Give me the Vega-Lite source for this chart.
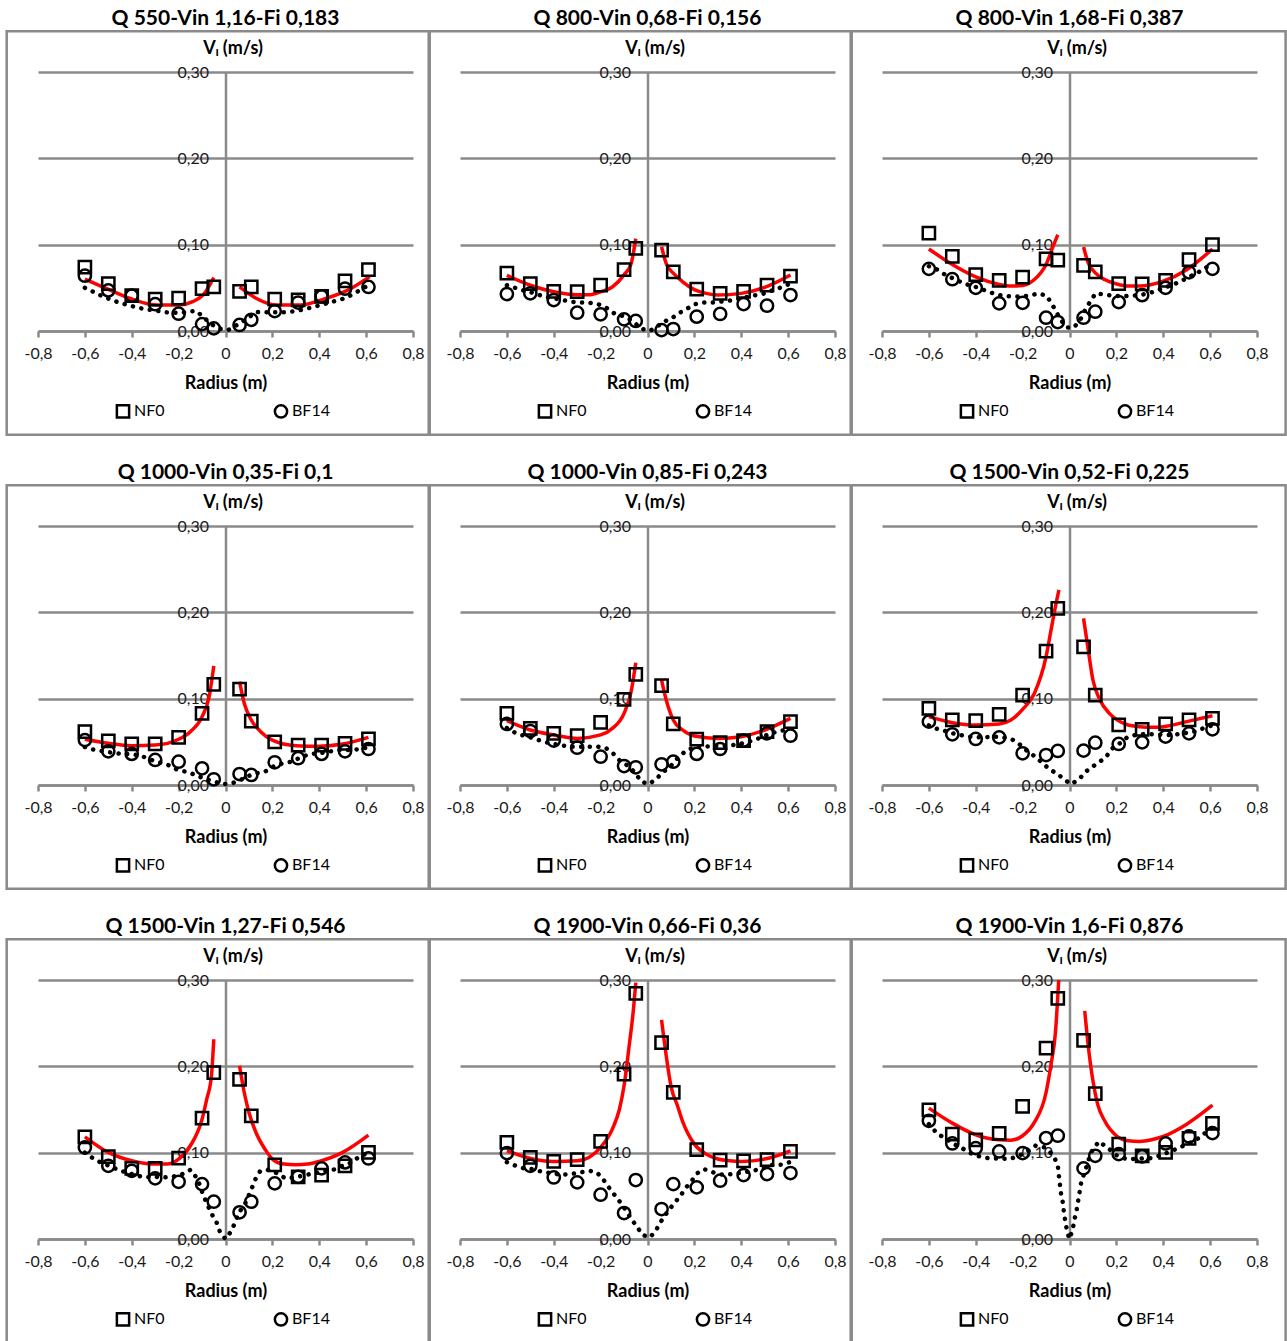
{
"$schema": "https://vega.github.io/schema/vega-lite/v6.json",
"background": "white",
"padding": {"left": 5, "top": 8, "right": 0, "bottom": 0},
"columns": 3,
"spacing": {"row": 195, "column": 47},
"bounds": "flush",
"resolve": {"scale": {"shape": "independent"}, "legend": {"shape": "independent"}},
"data": {"values": [
{"p":1,"s":"NF0","x":-0.6,"y":0.074},{"p":1,"s":"NF0","x":-0.5,"y":0.055},{"p":1,"s":"NF0","x":-0.4,"y":0.041},{"p":1,"s":"NF0","x":-0.3,"y":0.037},{"p":1,"s":"NF0","x":-0.2,"y":0.038},{"p":1,"s":"NF0","x":-0.1,"y":0.049},{"p":1,"s":"NF0","x":-0.05,"y":0.051},{"p":1,"s":"NF0","x":0.06,"y":0.046},{"p":1,"s":"NF0","x":0.11,"y":0.051},{"p":1,"s":"NF0","x":0.21,"y":0.037},{"p":1,"s":"NF0","x":0.31,"y":0.036},{"p":1,"s":"NF0","x":0.41,"y":0.040},{"p":1,"s":"NF0","x":0.51,"y":0.058},{"p":1,"s":"NF0","x":0.61,"y":0.071},
{"p":1,"s":"BF14","x":-0.6,"y":0.064},{"p":1,"s":"BF14","x":-0.5,"y":0.047},{"p":1,"s":"BF14","x":-0.4,"y":0.041},{"p":1,"s":"BF14","x":-0.3,"y":0.031},{"p":1,"s":"BF14","x":-0.2,"y":0.020},{"p":1,"s":"BF14","x":-0.1,"y":0.008},{"p":1,"s":"BF14","x":-0.05,"y":0.003},{"p":1,"s":"BF14","x":0.06,"y":0.007},{"p":1,"s":"BF14","x":0.11,"y":0.013},{"p":1,"s":"BF14","x":0.21,"y":0.023},{"p":1,"s":"BF14","x":0.31,"y":0.033},{"p":1,"s":"BF14","x":0.41,"y":0.040},{"p":1,"s":"BF14","x":0.51,"y":0.049},{"p":1,"s":"BF14","x":0.61,"y":0.051},
{"p":1,"s":"L","x":-0.6,"y":0.060},{"p":1,"s":"L","x":-0.49,"y":0.047},{"p":1,"s":"L","x":-0.39,"y":0.036},{"p":1,"s":"L","x":-0.29,"y":0.030},{"p":1,"s":"L","x":-0.2,"y":0.030},{"p":1,"s":"L","x":-0.14,"y":0.034},{"p":1,"s":"L","x":-0.09,"y":0.0436},{"p":1,"s":"L","x":-0.05,"y":0.062},
{"p":1,"s":"R","x":0.06,"y":0.051},{"p":1,"s":"R","x":0.13,"y":0.038},{"p":1,"s":"R","x":0.22,"y":0.030},{"p":1,"s":"R","x":0.32,"y":0.030},{"p":1,"s":"R","x":0.42,"y":0.037},{"p":1,"s":"R","x":0.52,"y":0.047},{"p":1,"s":"R","x":0.615,"y":0.063},
{"p":1,"s":"D","x":-0.6,"y":0.05},{"p":1,"s":"D","x":-0.569,"y":0.046},{"p":1,"s":"D","x":-0.531,"y":0.041},{"p":1,"s":"D","x":-0.495,"y":0.037},{"p":1,"s":"D","x":-0.455,"y":0.033},{"p":1,"s":"D","x":-0.414,"y":0.030},{"p":1,"s":"D","x":-0.375,"y":0.027},{"p":1,"s":"D","x":-0.334,"y":0.025},{"p":1,"s":"D","x":-0.295,"y":0.0235},{"p":1,"s":"D","x":-0.252,"y":0.0216},{"p":1,"s":"D","x":-0.21,"y":0.021},{"p":1,"s":"D","x":-0.17,"y":0.0216},{"p":1,"s":"D","x":-0.127,"y":0.0235},{"p":1,"s":"D","x":-0.093,"y":0.016},{"p":1,"s":"D","x":-0.067,"y":0.009},{"p":1,"s":"D","x":-0.031,"y":0.003},{"p":1,"s":"D","x":0.011,"y":0.001},{"p":1,"s":"D","x":0.061,"y":0.009},{"p":1,"s":"D","x":0.097,"y":0.015},{"p":1,"s":"D","x":0.13,"y":0.022},{"p":1,"s":"D","x":0.171,"y":0.0216},{"p":1,"s":"D","x":0.213,"y":0.0216},{"p":1,"s":"D","x":0.254,"y":0.0216},{"p":1,"s":"D","x":0.295,"y":0.023},{"p":1,"s":"D","x":0.335,"y":0.025},{"p":1,"s":"D","x":0.377,"y":0.028},{"p":1,"s":"D","x":0.418,"y":0.031},{"p":1,"s":"D","x":0.458,"y":0.034},{"p":1,"s":"D","x":0.498,"y":0.037},{"p":1,"s":"D","x":0.532,"y":0.041},{"p":1,"s":"D","x":0.572,"y":0.047},{"p":1,"s":"D","x":0.603,"y":0.052},

{"p":2,"s":"NF0","x":-0.6,"y":0.067},{"p":2,"s":"NF0","x":-0.5,"y":0.055},{"p":2,"s":"NF0","x":-0.4,"y":0.046},{"p":2,"s":"NF0","x":-0.3,"y":0.0455},{"p":2,"s":"NF0","x":-0.2,"y":0.053},{"p":2,"s":"NF0","x":-0.1,"y":0.071},{"p":2,"s":"NF0","x":-0.05,"y":0.0956},{"p":2,"s":"NF0","x":0.06,"y":0.0937},{"p":2,"s":"NF0","x":0.11,"y":0.0686},{"p":2,"s":"NF0","x":0.21,"y":0.0486},{"p":2,"s":"NF0","x":0.31,"y":0.0436},{"p":2,"s":"NF0","x":0.41,"y":0.046},{"p":2,"s":"NF0","x":0.51,"y":0.053},{"p":2,"s":"NF0","x":0.61,"y":0.0636},
{"p":2,"s":"BF14","x":-0.6,"y":0.0428},{"p":2,"s":"BF14","x":-0.5,"y":0.0436},{"p":2,"s":"BF14","x":-0.4,"y":0.0359},{"p":2,"s":"BF14","x":-0.3,"y":0.0212},{"p":2,"s":"BF14","x":-0.2,"y":0.0193},{"p":2,"s":"BF14","x":-0.1,"y":0.0135},{"p":2,"s":"BF14","x":-0.05,"y":0.0116},{"p":2,"s":"BF14","x":0.06,"y":0.001},{"p":2,"s":"BF14","x":0.11,"y":0.0023},{"p":2,"s":"BF14","x":0.21,"y":0.0166},{"p":2,"s":"BF14","x":0.31,"y":0.0197},{"p":2,"s":"BF14","x":0.41,"y":0.0312},{"p":2,"s":"BF14","x":0.51,"y":0.0293},{"p":2,"s":"BF14","x":0.61,"y":0.0416},
{"p":2,"s":"L","x":-0.6,"y":0.0644},{"p":2,"s":"L","x":-0.5,"y":0.053},{"p":2,"s":"L","x":-0.4,"y":0.0455},{"p":2,"s":"L","x":-0.3,"y":0.042},{"p":2,"s":"L","x":-0.25,"y":0.042},{"p":2,"s":"L","x":-0.2,"y":0.0455},{"p":2,"s":"L","x":-0.15,"y":0.051},{"p":2,"s":"L","x":-0.1,"y":0.065},{"p":2,"s":"L","x":-0.07,"y":0.078},{"p":2,"s":"L","x":-0.05,"y":0.107},
{"p":2,"s":"R","x":0.06,"y":0.0976},{"p":2,"s":"R","x":0.08,"y":0.078},{"p":2,"s":"R","x":0.11,"y":0.067},{"p":2,"s":"R","x":0.15,"y":0.057},{"p":2,"s":"R","x":0.2,"y":0.048},{"p":2,"s":"R","x":0.25,"y":0.0436},{"p":2,"s":"R","x":0.3,"y":0.0417},{"p":2,"s":"R","x":0.4,"y":0.0436},{"p":2,"s":"R","x":0.5,"y":0.0505},{"p":2,"s":"R","x":0.61,"y":0.0648},
{"p":2,"s":"D","x":-0.6,"y":0.053},{"p":2,"s":"D","x":-0.57,"y":0.0505},{"p":2,"s":"D","x":-0.53,"y":0.047},{"p":2,"s":"D","x":-0.48,"y":0.0436},{"p":2,"s":"D","x":-0.45,"y":0.0405},{"p":2,"s":"D","x":-0.41,"y":0.0378},{"p":2,"s":"D","x":-0.38,"y":0.037},{"p":2,"s":"D","x":-0.33,"y":0.034},{"p":2,"s":"D","x":-0.29,"y":0.033},{"p":2,"s":"D","x":-0.25,"y":0.0328},{"p":2,"s":"D","x":-0.21,"y":0.031},{"p":2,"s":"D","x":-0.17,"y":0.026},{"p":2,"s":"D","x":-0.14,"y":0.020},{"p":2,"s":"D","x":-0.1,"y":0.017},{"p":2,"s":"D","x":-0.06,"y":0.011},{"p":2,"s":"D","x":-0.03,"y":0.003},{"p":2,"s":"D","x":0.01,"y":0.0},{"p":2,"s":"D","x":0.04,"y":0.005},{"p":2,"s":"D","x":0.08,"y":0.012},{"p":2,"s":"D","x":0.1,"y":0.014},{"p":2,"s":"D","x":0.13,"y":0.020},{"p":2,"s":"D","x":0.17,"y":0.026},{"p":2,"s":"D","x":0.2,"y":0.031},{"p":2,"s":"D","x":0.24,"y":0.033},{"p":2,"s":"D","x":0.28,"y":0.033},{"p":2,"s":"D","x":0.31,"y":0.034},{"p":2,"s":"D","x":0.37,"y":0.0359},{"p":2,"s":"D","x":0.41,"y":0.0386},{"p":2,"s":"D","x":0.45,"y":0.041},{"p":2,"s":"D","x":0.49,"y":0.0428},{"p":2,"s":"D","x":0.53,"y":0.0467},{"p":2,"s":"D","x":0.57,"y":0.0505},{"p":2,"s":"D","x":0.61,"y":0.055},

{"p":3,"s":"NF0","x":-0.6,"y":0.1135},{"p":3,"s":"NF0","x":-0.5,"y":0.0865},{"p":3,"s":"NF0","x":-0.4,"y":0.0654},{"p":3,"s":"NF0","x":-0.3,"y":0.0585},{"p":3,"s":"NF0","x":-0.2,"y":0.0623},{"p":3,"s":"NF0","x":-0.1,"y":0.0835},{"p":3,"s":"NF0","x":-0.05,"y":0.082},{"p":3,"s":"NF0","x":0.06,"y":0.076},{"p":3,"s":"NF0","x":0.11,"y":0.0685},{"p":3,"s":"NF0","x":0.21,"y":0.055},{"p":3,"s":"NF0","x":0.31,"y":0.0546},{"p":3,"s":"NF0","x":0.41,"y":0.0585},{"p":3,"s":"NF0","x":0.51,"y":0.0827},{"p":3,"s":"NF0","x":0.61,"y":0.100},
{"p":3,"s":"BF14","x":-0.6,"y":0.072},{"p":3,"s":"BF14","x":-0.5,"y":0.060},{"p":3,"s":"BF14","x":-0.4,"y":0.050},{"p":3,"s":"BF14","x":-0.3,"y":0.032},{"p":3,"s":"BF14","x":-0.2,"y":0.0327},{"p":3,"s":"BF14","x":-0.1,"y":0.0154},{"p":3,"s":"BF14","x":-0.05,"y":0.0104},{"p":3,"s":"BF14","x":0.06,"y":0.0154},{"p":3,"s":"BF14","x":0.11,"y":0.0223},{"p":3,"s":"BF14","x":0.21,"y":0.0335},{"p":3,"s":"BF14","x":0.31,"y":0.0415},{"p":3,"s":"BF14","x":0.41,"y":0.050},{"p":3,"s":"BF14","x":0.51,"y":0.068},{"p":3,"s":"BF14","x":0.61,"y":0.072},
{"p":3,"s":"L","x":-0.6,"y":0.095},{"p":3,"s":"L","x":-0.5,"y":0.077},{"p":3,"s":"L","x":-0.4,"y":0.0627},{"p":3,"s":"L","x":-0.3,"y":0.054},{"p":3,"s":"L","x":-0.25,"y":0.052},{"p":3,"s":"L","x":-0.2,"y":0.0527},{"p":3,"s":"L","x":-0.15,"y":0.0596},{"p":3,"s":"L","x":-0.1,"y":0.077},{"p":3,"s":"L","x":-0.07,"y":0.098},{"p":3,"s":"L","x":-0.05,"y":0.1115},
{"p":3,"s":"R","x":0.06,"y":0.0973},{"p":3,"s":"R","x":0.08,"y":0.0788},{"p":3,"s":"R","x":0.11,"y":0.0673},{"p":3,"s":"R","x":0.15,"y":0.0596},{"p":3,"s":"R","x":0.2,"y":0.0546},{"p":3,"s":"R","x":0.25,"y":0.052},{"p":3,"s":"R","x":0.3,"y":0.052},{"p":3,"s":"R","x":0.4,"y":0.0577},{"p":3,"s":"R","x":0.5,"y":0.071},{"p":3,"s":"R","x":0.61,"y":0.095},
{"p":3,"s":"D","x":-0.6,"y":0.075},{"p":3,"s":"D","x":-0.57,"y":0.072},{"p":3,"s":"D","x":-0.53,"y":0.065},{"p":3,"s":"D","x":-0.49,"y":0.060},{"p":3,"s":"D","x":-0.45,"y":0.055},{"p":3,"s":"D","x":-0.4,"y":0.051},{"p":3,"s":"D","x":-0.37,"y":0.048},{"p":3,"s":"D","x":-0.33,"y":0.044},{"p":3,"s":"D","x":-0.29,"y":0.041},{"p":3,"s":"D","x":-0.25,"y":0.040},{"p":3,"s":"D","x":-0.21,"y":0.040},{"p":3,"s":"D","x":-0.17,"y":0.041},{"p":3,"s":"D","x":-0.134,"y":0.0435},{"p":3,"s":"D","x":-0.098,"y":0.041},{"p":3,"s":"D","x":-0.077,"y":0.032},{"p":3,"s":"D","x":-0.056,"y":0.0223},{"p":3,"s":"D","x":-0.041,"y":0.014},{"p":3,"s":"D","x":-0.01,"y":0.004},{"p":3,"s":"D","x":0.019,"y":0.004},{"p":3,"s":"D","x":0.047,"y":0.0135},{"p":3,"s":"D","x":0.064,"y":0.023},{"p":3,"s":"D","x":0.087,"y":0.0335},{"p":3,"s":"D","x":0.111,"y":0.0435},{"p":3,"s":"D","x":0.149,"y":0.0423},{"p":3,"s":"D","x":0.196,"y":0.0404},{"p":3,"s":"D","x":0.236,"y":0.0404},{"p":3,"s":"D","x":0.272,"y":0.041},{"p":3,"s":"D","x":0.313,"y":0.0423},{"p":3,"s":"D","x":0.353,"y":0.045},{"p":3,"s":"D","x":0.391,"y":0.0488},{"p":3,"s":"D","x":0.431,"y":0.0527},{"p":3,"s":"D","x":0.471,"y":0.057},{"p":3,"s":"D","x":0.51,"y":0.0627},{"p":3,"s":"D","x":0.545,"y":0.0673},{"p":3,"s":"D","x":0.58,"y":0.0727},{"p":3,"s":"D","x":0.609,"y":0.080},

{"p":4,"s":"NF0","x":-0.6,"y":0.0618},{"p":4,"s":"NF0","x":-0.5,"y":0.051},{"p":4,"s":"NF0","x":-0.4,"y":0.0475},{"p":4,"s":"NF0","x":-0.3,"y":0.0475},{"p":4,"s":"NF0","x":-0.2,"y":0.0552},{"p":4,"s":"NF0","x":-0.1,"y":0.083},{"p":4,"s":"NF0","x":-0.05,"y":0.1166},{"p":4,"s":"NF0","x":0.06,"y":0.111},{"p":4,"s":"NF0","x":0.11,"y":0.074},{"p":4,"s":"NF0","x":0.21,"y":0.050},{"p":4,"s":"NF0","x":0.31,"y":0.0463},{"p":4,"s":"NF0","x":0.41,"y":0.0463},{"p":4,"s":"NF0","x":0.51,"y":0.0483},{"p":4,"s":"NF0","x":0.61,"y":0.0533},
{"p":4,"s":"BF14","x":-0.6,"y":0.052},{"p":4,"s":"BF14","x":-0.5,"y":0.039},{"p":4,"s":"BF14","x":-0.4,"y":0.036},{"p":4,"s":"BF14","x":-0.3,"y":0.029},{"p":4,"s":"BF14","x":-0.2,"y":0.027},{"p":4,"s":"BF14","x":-0.1,"y":0.0193},{"p":4,"s":"BF14","x":-0.05,"y":0.0066},{"p":4,"s":"BF14","x":0.06,"y":0.0127},{"p":4,"s":"BF14","x":0.11,"y":0.0116},{"p":4,"s":"BF14","x":0.21,"y":0.0263},{"p":4,"s":"BF14","x":0.31,"y":0.031},{"p":4,"s":"BF14","x":0.41,"y":0.036},{"p":4,"s":"BF14","x":0.51,"y":0.039},{"p":4,"s":"BF14","x":0.61,"y":0.0417},
{"p":4,"s":"L","x":-0.6,"y":0.053},{"p":4,"s":"L","x":-0.5,"y":0.0483},{"p":4,"s":"L","x":-0.4,"y":0.0456},{"p":4,"s":"L","x":-0.3,"y":0.0463},{"p":4,"s":"L","x":-0.2,"y":0.053},{"p":4,"s":"L","x":-0.15,"y":0.0618},{"p":4,"s":"L","x":-0.1,"y":0.079},{"p":4,"s":"L","x":-0.07,"y":0.102},{"p":4,"s":"L","x":-0.05,"y":0.138},
{"p":4,"s":"R","x":0.06,"y":0.1197},{"p":4,"s":"R","x":0.08,"y":0.0946},{"p":4,"s":"R","x":0.11,"y":0.0753},{"p":4,"s":"R","x":0.15,"y":0.0618},{"p":4,"s":"R","x":0.2,"y":0.052},{"p":4,"s":"R","x":0.3,"y":0.0456},{"p":4,"s":"R","x":0.4,"y":0.045},{"p":4,"s":"R","x":0.5,"y":0.0475},{"p":4,"s":"R","x":0.61,"y":0.0552},
{"p":4,"s":"D","x":-0.6,"y":0.044},{"p":4,"s":"D","x":-0.567,"y":0.0413},{"p":4,"s":"D","x":-0.529,"y":0.0394},{"p":4,"s":"D","x":-0.486,"y":0.0375},{"p":4,"s":"D","x":-0.444,"y":0.036},{"p":4,"s":"D","x":-0.404,"y":0.036},{"p":4,"s":"D","x":-0.358,"y":0.0336},{"p":4,"s":"D","x":-0.323,"y":0.0297},{"p":4,"s":"D","x":-0.283,"y":0.0263},{"p":4,"s":"D","x":-0.245,"y":0.0232},{"p":4,"s":"D","x":-0.209,"y":0.0181},{"p":4,"s":"D","x":-0.169,"y":0.0154},{"p":4,"s":"D","x":-0.127,"y":0.0116},{"p":4,"s":"D","x":-0.088,"y":0.007},{"p":4,"s":"D","x":-0.048,"y":0.004},{"p":4,"s":"D","x":-0.01,"y":0.001},{"p":4,"s":"D","x":0.028,"y":0.002},{"p":4,"s":"D","x":0.064,"y":0.0058},{"p":4,"s":"D","x":0.097,"y":0.0104},{"p":4,"s":"D","x":0.132,"y":0.0135},{"p":4,"s":"D","x":0.168,"y":0.0154},{"p":4,"s":"D","x":0.203,"y":0.0212},{"p":4,"s":"D","x":0.243,"y":0.025},{"p":4,"s":"D","x":0.282,"y":0.027},{"p":4,"s":"D","x":0.321,"y":0.032},{"p":4,"s":"D","x":0.36,"y":0.036},{"p":4,"s":"D","x":0.4,"y":0.0367},{"p":4,"s":"D","x":0.442,"y":0.0386},{"p":4,"s":"D","x":0.481,"y":0.0405},{"p":4,"s":"D","x":0.523,"y":0.0405},{"p":4,"s":"D","x":0.562,"y":0.0413},{"p":4,"s":"D","x":0.602,"y":0.0432},

{"p":5,"s":"NF0","x":-0.6,"y":0.083},{"p":5,"s":"NF0","x":-0.5,"y":0.0656},{"p":5,"s":"NF0","x":-0.4,"y":0.0598},{"p":5,"s":"NF0","x":-0.3,"y":0.0571},{"p":5,"s":"NF0","x":-0.2,"y":0.0726},{"p":5,"s":"NF0","x":-0.1,"y":0.0992},{"p":5,"s":"NF0","x":-0.05,"y":0.128},{"p":5,"s":"NF0","x":0.06,"y":0.115},{"p":5,"s":"NF0","x":0.11,"y":0.0707},{"p":5,"s":"NF0","x":0.21,"y":0.053},{"p":5,"s":"NF0","x":0.31,"y":0.049},{"p":5,"s":"NF0","x":0.41,"y":0.0514},{"p":5,"s":"NF0","x":0.51,"y":0.0618},{"p":5,"s":"NF0","x":0.61,"y":0.0734},
{"p":5,"s":"BF14","x":-0.6,"y":0.0707},{"p":5,"s":"BF14","x":-0.5,"y":0.0625},{"p":5,"s":"BF14","x":-0.4,"y":0.0514},{"p":5,"s":"BF14","x":-0.3,"y":0.0432},{"p":5,"s":"BF14","x":-0.2,"y":0.0328},{"p":5,"s":"BF14","x":-0.1,"y":0.022},{"p":5,"s":"BF14","x":-0.05,"y":0.0205},{"p":5,"s":"BF14","x":0.06,"y":0.024},{"p":5,"s":"BF14","x":0.11,"y":0.027},{"p":5,"s":"BF14","x":0.21,"y":0.036},{"p":5,"s":"BF14","x":0.31,"y":0.0417},{"p":5,"s":"BF14","x":0.41,"y":0.0514},{"p":5,"s":"BF14","x":0.51,"y":0.0598},{"p":5,"s":"BF14","x":0.61,"y":0.0571},
{"p":5,"s":"L","x":-0.6,"y":0.0745},{"p":5,"s":"L","x":-0.5,"y":0.0637},{"p":5,"s":"L","x":-0.4,"y":0.058},{"p":5,"s":"L","x":-0.3,"y":0.054},{"p":5,"s":"L","x":-0.2,"y":0.058},{"p":5,"s":"L","x":-0.15,"y":0.0656},{"p":5,"s":"L","x":-0.1,"y":0.083},{"p":5,"s":"L","x":-0.07,"y":0.108},{"p":5,"s":"L","x":-0.05,"y":0.1417},
{"p":5,"s":"R","x":0.06,"y":0.1216},{"p":5,"s":"R","x":0.08,"y":0.0985},{"p":5,"s":"R","x":0.11,"y":0.0753},{"p":5,"s":"R","x":0.15,"y":0.0637},{"p":5,"s":"R","x":0.2,"y":0.0568},{"p":5,"s":"R","x":0.3,"y":0.054},{"p":5,"s":"R","x":0.4,"y":0.056},{"p":5,"s":"R","x":0.5,"y":0.0637},{"p":5,"s":"R","x":0.61,"y":0.0772},
{"p":5,"s":"D","x":-0.6,"y":0.066},{"p":5,"s":"D","x":-0.575,"y":0.0618},{"p":5,"s":"D","x":-0.539,"y":0.058},{"p":5,"s":"D","x":-0.5,"y":0.0552},{"p":5,"s":"D","x":-0.457,"y":0.0514},{"p":5,"s":"D","x":-0.415,"y":0.0483},{"p":5,"s":"D","x":-0.372,"y":0.0463},{"p":5,"s":"D","x":-0.332,"y":0.0444},{"p":5,"s":"D","x":-0.294,"y":0.0444},{"p":5,"s":"D","x":-0.251,"y":0.0444},{"p":5,"s":"D","x":-0.211,"y":0.0444},{"p":5,"s":"D","x":-0.176,"y":0.0425},{"p":5,"s":"D","x":-0.145,"y":0.036},{"p":5,"s":"D","x":-0.114,"y":0.027},{"p":5,"s":"D","x":-0.081,"y":0.022},{"p":5,"s":"D","x":-0.053,"y":0.0143},{"p":5,"s":"D","x":-0.027,"y":0.004},{"p":5,"s":"D","x":0.007,"y":0.001},{"p":5,"s":"D","x":0.04,"y":0.0077},{"p":5,"s":"D","x":0.068,"y":0.0154},{"p":5,"s":"D","x":0.097,"y":0.0212},{"p":5,"s":"D","x":0.136,"y":0.0336},{"p":5,"s":"D","x":0.17,"y":0.0405},{"p":5,"s":"D","x":0.207,"y":0.0444},{"p":5,"s":"D","x":0.243,"y":0.0444},{"p":5,"s":"D","x":0.285,"y":0.0451},{"p":5,"s":"D","x":0.324,"y":0.0451},{"p":5,"s":"D","x":0.366,"y":0.0463},{"p":5,"s":"D","x":0.405,"y":0.0483},{"p":5,"s":"D","x":0.447,"y":0.0514},{"p":5,"s":"D","x":0.487,"y":0.0552},{"p":5,"s":"D","x":0.525,"y":0.0598},{"p":5,"s":"D","x":0.565,"y":0.0625},{"p":5,"s":"D","x":0.6,"y":0.0645},

{"p":6,"s":"NF0","x":-0.6,"y":0.0888},{"p":6,"s":"NF0","x":-0.5,"y":0.0753},{"p":6,"s":"NF0","x":-0.4,"y":0.0745},{"p":6,"s":"NF0","x":-0.3,"y":0.0819},{"p":6,"s":"NF0","x":-0.2,"y":0.1042},{"p":6,"s":"NF0","x":-0.1,"y":0.155},{"p":6,"s":"NF0","x":-0.05,"y":0.2046},{"p":6,"s":"NF0","x":0.06,"y":0.160},{"p":6,"s":"NF0","x":0.11,"y":0.1042},{"p":6,"s":"NF0","x":0.21,"y":0.0695},{"p":6,"s":"NF0","x":0.31,"y":0.0645},{"p":6,"s":"NF0","x":0.41,"y":0.0707},{"p":6,"s":"NF0","x":0.51,"y":0.0753},{"p":6,"s":"NF0","x":0.61,"y":0.0772},
{"p":6,"s":"BF14","x":-0.6,"y":0.0734},{"p":6,"s":"BF14","x":-0.5,"y":0.0587},{"p":6,"s":"BF14","x":-0.4,"y":0.0533},{"p":6,"s":"BF14","x":-0.3,"y":0.0552},{"p":6,"s":"BF14","x":-0.2,"y":0.0367},{"p":6,"s":"BF14","x":-0.1,"y":0.0347},{"p":6,"s":"BF14","x":-0.05,"y":0.0394},{"p":6,"s":"BF14","x":0.06,"y":0.0398},{"p":6,"s":"BF14","x":0.11,"y":0.049},{"p":6,"s":"BF14","x":0.21,"y":0.0475},{"p":6,"s":"BF14","x":0.31,"y":0.0494},{"p":6,"s":"BF14","x":0.41,"y":0.056},{"p":6,"s":"BF14","x":0.51,"y":0.0598},{"p":6,"s":"BF14","x":0.61,"y":0.0645},
{"p":6,"s":"L","x":-0.6,"y":0.0792},{"p":6,"s":"L","x":-0.5,"y":0.0722},{"p":6,"s":"L","x":-0.4,"y":0.0695},{"p":6,"s":"L","x":-0.3,"y":0.0707},{"p":6,"s":"L","x":-0.25,"y":0.0753},{"p":6,"s":"L","x":-0.2,"y":0.0876},{"p":6,"s":"L","x":-0.15,"y":0.106},{"p":6,"s":"L","x":-0.1,"y":0.1486},{"p":6,"s":"L","x":-0.08,"y":0.1776},{"p":6,"s":"L","x":-0.06,"y":0.2066},{"p":6,"s":"L","x":-0.045,"y":0.2259},
{"p":6,"s":"R","x":0.06,"y":0.193},{"p":6,"s":"R","x":0.08,"y":0.1564},{"p":6,"s":"R","x":0.1,"y":0.1216},{"p":6,"s":"R","x":0.13,"y":0.0985},{"p":6,"s":"R","x":0.17,"y":0.083},{"p":6,"s":"R","x":0.2,"y":0.076},{"p":6,"s":"R","x":0.25,"y":0.0695},{"p":6,"s":"R","x":0.3,"y":0.0676},{"p":6,"s":"R","x":0.35,"y":0.0668},{"p":6,"s":"R","x":0.4,"y":0.0676},{"p":6,"s":"R","x":0.5,"y":0.0734},{"p":6,"s":"R","x":0.61,"y":0.0803},
{"p":6,"s":"D","x":-0.6,"y":0.069},{"p":6,"s":"D","x":-0.572,"y":0.0656},{"p":6,"s":"D","x":-0.529,"y":0.0625},{"p":6,"s":"D","x":-0.484,"y":0.0587},{"p":6,"s":"D","x":-0.444,"y":0.0568},{"p":6,"s":"D","x":-0.405,"y":0.0552},{"p":6,"s":"D","x":-0.363,"y":0.0552},{"p":6,"s":"D","x":-0.323,"y":0.056},{"p":6,"s":"D","x":-0.283,"y":0.0552},{"p":6,"s":"D","x":-0.245,"y":0.0529},{"p":6,"s":"D","x":-0.209,"y":0.0463},{"p":6,"s":"D","x":-0.181,"y":0.0394},{"p":6,"s":"D","x":-0.152,"y":0.034},{"p":6,"s":"D","x":-0.117,"y":0.0259},{"p":6,"s":"D","x":-0.085,"y":0.0181},{"p":6,"s":"D","x":-0.05,"y":0.0127},{"p":6,"s":"D","x":-0.021,"y":0.0058},{"p":6,"s":"D","x":0.009,"y":0.001},{"p":6,"s":"D","x":0.044,"y":0.0077},{"p":6,"s":"D","x":0.075,"y":0.0166},{"p":6,"s":"D","x":0.118,"y":0.0251},{"p":6,"s":"D","x":0.151,"y":0.0309},{"p":6,"s":"D","x":0.186,"y":0.0432},{"p":6,"s":"D","x":0.218,"y":0.049},{"p":6,"s":"D","x":0.246,"y":0.0552},{"p":6,"s":"D","x":0.282,"y":0.058},{"p":6,"s":"D","x":0.32,"y":0.0591},{"p":6,"s":"D","x":0.36,"y":0.0587},{"p":6,"s":"D","x":0.403,"y":0.058},{"p":6,"s":"D","x":0.445,"y":0.058},{"p":6,"s":"D","x":0.485,"y":0.0598},{"p":6,"s":"D","x":0.531,"y":0.0618},{"p":6,"s":"D","x":0.57,"y":0.0656},{"p":6,"s":"D","x":0.613,"y":0.0695},

{"p":7,"s":"NF0","x":-0.6,"y":0.1184},{"p":7,"s":"NF0","x":-0.5,"y":0.0953},{"p":7,"s":"NF0","x":-0.4,"y":0.0818},{"p":7,"s":"NF0","x":-0.3,"y":0.0818},{"p":7,"s":"NF0","x":-0.2,"y":0.0937},{"p":7,"s":"NF0","x":-0.1,"y":0.140},{"p":7,"s":"NF0","x":-0.05,"y":0.1928},{"p":7,"s":"NF0","x":0.06,"y":0.185},{"p":7,"s":"NF0","x":0.11,"y":0.1427},{"p":7,"s":"NF0","x":0.21,"y":0.086},{"p":7,"s":"NF0","x":0.31,"y":0.0721},{"p":7,"s":"NF0","x":0.41,"y":0.074},{"p":7,"s":"NF0","x":0.51,"y":0.0848},{"p":7,"s":"NF0","x":0.61,"y":0.1003},
{"p":7,"s":"BF14","x":-0.6,"y":0.106},{"p":7,"s":"BF14","x":-0.5,"y":0.0848},{"p":7,"s":"BF14","x":-0.4,"y":0.079},{"p":7,"s":"BF14","x":-0.3,"y":0.0702},{"p":7,"s":"BF14","x":-0.2,"y":0.0663},{"p":7,"s":"BF14","x":-0.1,"y":0.0636},{"p":7,"s":"BF14","x":-0.05,"y":0.0432},{"p":7,"s":"BF14","x":0.06,"y":0.0309},{"p":7,"s":"BF14","x":0.11,"y":0.0432},{"p":7,"s":"BF14","x":0.21,"y":0.0644},{"p":7,"s":"BF14","x":0.31,"y":0.0721},{"p":7,"s":"BF14","x":0.41,"y":0.0818},{"p":7,"s":"BF14","x":0.51,"y":0.0887},{"p":7,"s":"BF14","x":0.61,"y":0.0933},
{"p":7,"s":"L","x":-0.6,"y":0.1184},{"p":7,"s":"L","x":-0.5,"y":0.1003},{"p":7,"s":"L","x":-0.4,"y":0.0906},{"p":7,"s":"L","x":-0.3,"y":0.0868},{"p":7,"s":"L","x":-0.25,"y":0.0868},{"p":7,"s":"L","x":-0.2,"y":0.0926},{"p":7,"s":"L","x":-0.15,"y":0.108},{"p":7,"s":"L","x":-0.1,"y":0.1388},{"p":7,"s":"L","x":-0.08,"y":0.162},{"p":7,"s":"L","x":-0.06,"y":0.189},{"p":7,"s":"L","x":-0.05,"y":0.2314},
{"p":7,"s":"R","x":0.06,"y":0.2005},{"p":7,"s":"R","x":0.08,"y":0.1697},{"p":7,"s":"R","x":0.1,"y":0.1466},{"p":7,"s":"R","x":0.13,"y":0.1234},{"p":7,"s":"R","x":0.17,"y":0.1034},{"p":7,"s":"R","x":0.2,"y":0.0926},{"p":7,"s":"R","x":0.25,"y":0.0868},{"p":7,"s":"R","x":0.3,"y":0.086},{"p":7,"s":"R","x":0.35,"y":0.0868},{"p":7,"s":"R","x":0.4,"y":0.0899},{"p":7,"s":"R","x":0.5,"y":0.1003},{"p":7,"s":"R","x":0.61,"y":0.1203},
{"p":7,"s":"D","x":-0.6,"y":0.1},{"p":7,"s":"D","x":-0.576,"y":0.0953},{"p":7,"s":"D","x":-0.539,"y":0.0895},{"p":7,"s":"D","x":-0.504,"y":0.0856},{"p":7,"s":"D","x":-0.465,"y":0.081},{"p":7,"s":"D","x":-0.425,"y":0.0771},{"p":7,"s":"D","x":-0.384,"y":0.074},{"p":7,"s":"D","x":-0.344,"y":0.0713},{"p":7,"s":"D","x":-0.302,"y":0.0721},{"p":7,"s":"D","x":-0.262,"y":0.0713},{"p":7,"s":"D","x":-0.22,"y":0.0725},{"p":7,"s":"D","x":-0.184,"y":0.0752},{"p":7,"s":"D","x":-0.149,"y":0.0802},{"p":7,"s":"D","x":-0.119,"y":0.0694},{"p":7,"s":"D","x":-0.095,"y":0.0509},{"p":7,"s":"D","x":-0.063,"y":0.0309},{"p":7,"s":"D","x":-0.038,"y":0.0193},{"p":7,"s":"D","x":-0.024,"y":0.0085},{"p":7,"s":"D","x":0,"y":0},{"p":7,"s":"D","x":0.023,"y":0.0085},{"p":7,"s":"D","x":0.04,"y":0.0185},{"p":7,"s":"D","x":0.058,"y":0.0309},{"p":7,"s":"D","x":0.083,"y":0.0405},{"p":7,"s":"D","x":0.111,"y":0.0579},{"p":7,"s":"D","x":0.128,"y":0.0694},{"p":7,"s":"D","x":0.147,"y":0.0783},{"p":7,"s":"D","x":0.179,"y":0.0802},{"p":7,"s":"D","x":0.213,"y":0.0771},{"p":7,"s":"D","x":0.256,"y":0.0702},{"p":7,"s":"D","x":0.299,"y":0.0713},{"p":7,"s":"D","x":0.339,"y":0.074},{"p":7,"s":"D","x":0.377,"y":0.076},{"p":7,"s":"D","x":0.42,"y":0.0783},{"p":7,"s":"D","x":0.46,"y":0.0802},{"p":7,"s":"D","x":0.5,"y":0.0848},{"p":7,"s":"D","x":0.538,"y":0.0887},{"p":7,"s":"D","x":0.57,"y":0.0953},{"p":7,"s":"D","x":0.606,"y":0.0995},

{"p":8,"s":"NF0","x":-0.6,"y":0.1118},{"p":8,"s":"NF0","x":-0.5,"y":0.0945},{"p":8,"s":"NF0","x":-0.4,"y":0.0899},{"p":8,"s":"NF0","x":-0.3,"y":0.0918},{"p":8,"s":"NF0","x":-0.2,"y":0.113},{"p":8,"s":"NF0","x":-0.1,"y":0.1909},{"p":8,"s":"NF0","x":-0.05,"y":0.2846},{"p":8,"s":"NF0","x":0.06,"y":0.2275},{"p":8,"s":"NF0","x":0.11,"y":0.1697},{"p":8,"s":"NF0","x":0.21,"y":0.1034},{"p":8,"s":"NF0","x":0.31,"y":0.0914},{"p":8,"s":"NF0","x":0.41,"y":0.0906},{"p":8,"s":"NF0","x":0.51,"y":0.0918},{"p":8,"s":"NF0","x":0.61,"y":0.1014},
{"p":8,"s":"BF14","x":-0.6,"y":0.0995},{"p":8,"s":"BF14","x":-0.5,"y":0.0848},{"p":8,"s":"BF14","x":-0.4,"y":0.0713},{"p":8,"s":"BF14","x":-0.3,"y":0.0656},{"p":8,"s":"BF14","x":-0.2,"y":0.0513},{"p":8,"s":"BF14","x":-0.1,"y":0.0301},{"p":8,"s":"BF14","x":-0.05,"y":0.0683},{"p":8,"s":"BF14","x":0.06,"y":0.0347},{"p":8,"s":"BF14","x":0.11,"y":0.0636},{"p":8,"s":"BF14","x":0.21,"y":0.0598},{"p":8,"s":"BF14","x":0.31,"y":0.0675},{"p":8,"s":"BF14","x":0.41,"y":0.074},{"p":8,"s":"BF14","x":0.51,"y":0.0752},{"p":8,"s":"BF14","x":0.61,"y":0.0764},
{"p":8,"s":"L","x":-0.6,"y":0.1022},{"p":8,"s":"L","x":-0.5,"y":0.0933},{"p":8,"s":"L","x":-0.4,"y":0.0899},{"p":8,"s":"L","x":-0.3,"y":0.0906},{"p":8,"s":"L","x":-0.25,"y":0.0945},{"p":8,"s":"L","x":-0.2,"y":0.1061},{"p":8,"s":"L","x":-0.15,"y":0.1273},{"p":8,"s":"L","x":-0.12,"y":0.150},{"p":8,"s":"L","x":-0.1,"y":0.1774},{"p":8,"s":"L","x":-0.08,"y":0.2198},{"p":8,"s":"L","x":-0.06,"y":0.266},{"p":8,"s":"L","x":-0.05,"y":0.297},
{"p":8,"s":"R","x":0.06,"y":0.2538},{"p":8,"s":"R","x":0.08,"y":0.2121},{"p":8,"s":"R","x":0.1,"y":0.1774},{"p":8,"s":"R","x":0.128,"y":0.1543},{"p":8,"s":"R","x":0.149,"y":0.1369},{"p":8,"s":"R","x":0.2,"y":0.1099},{"p":8,"s":"R","x":0.25,"y":0.0983},{"p":8,"s":"R","x":0.3,"y":0.0926},{"p":8,"s":"R","x":0.35,"y":0.0906},{"p":8,"s":"R","x":0.4,"y":0.0899},{"p":8,"s":"R","x":0.5,"y":0.0926},{"p":8,"s":"R","x":0.61,"y":0.1022},
{"p":8,"s":"D","x":-0.6,"y":0.089},{"p":8,"s":"D","x":-0.574,"y":0.086},{"p":8,"s":"D","x":-0.531,"y":0.0821},{"p":8,"s":"D","x":-0.493,"y":0.081},{"p":8,"s":"D","x":-0.45,"y":0.0779},{"p":8,"s":"D","x":-0.408,"y":0.076},{"p":8,"s":"D","x":-0.368,"y":0.0744},{"p":8,"s":"D","x":-0.327,"y":0.0752},{"p":8,"s":"D","x":-0.287,"y":0.0771},{"p":8,"s":"D","x":-0.247,"y":0.079},{"p":8,"s":"D","x":-0.216,"y":0.0771},{"p":8,"s":"D","x":-0.19,"y":0.0694},{"p":8,"s":"D","x":-0.163,"y":0.059},{"p":8,"s":"D","x":-0.138,"y":0.0502},{"p":8,"s":"D","x":-0.114,"y":0.0417},{"p":8,"s":"D","x":-0.091,"y":0.0328},{"p":8,"s":"D","x":-0.067,"y":0.0224},{"p":8,"s":"D","x":-0.043,"y":0.0135},{"p":8,"s":"D","x":-0.021,"y":0.0046},{"p":8,"s":"D","x":0.011,"y":0.0019},{"p":8,"s":"D","x":0.037,"y":0.0104},{"p":8,"s":"D","x":0.057,"y":0.0201},{"p":8,"s":"D","x":0.082,"y":0.0301},{"p":8,"s":"D","x":0.111,"y":0.0405},{"p":8,"s":"D","x":0.139,"y":0.0494},{"p":8,"s":"D","x":0.165,"y":0.0598},{"p":8,"s":"D","x":0.189,"y":0.0675},{"p":8,"s":"D","x":0.214,"y":0.0764},{"p":8,"s":"D","x":0.241,"y":0.081},{"p":8,"s":"D","x":0.281,"y":0.0771},{"p":8,"s":"D","x":0.321,"y":0.0744},{"p":8,"s":"D","x":0.366,"y":0.0752},{"p":8,"s":"D","x":0.406,"y":0.0771},{"p":8,"s":"D","x":0.449,"y":0.079},{"p":8,"s":"D","x":0.491,"y":0.0817},{"p":8,"s":"D","x":0.53,"y":0.0856},{"p":8,"s":"D","x":0.57,"y":0.086},{"p":8,"s":"D","x":0.608,"y":0.0891},

{"p":9,"s":"NF0","x":-0.6,"y":0.1496},{"p":9,"s":"NF0","x":-0.5,"y":0.1215},{"p":9,"s":"NF0","x":-0.4,"y":0.1149},{"p":9,"s":"NF0","x":-0.3,"y":0.1223},{"p":9,"s":"NF0","x":-0.2,"y":0.1535},{"p":9,"s":"NF0","x":-0.1,"y":0.221},{"p":9,"s":"NF0","x":-0.05,"y":0.2788},{"p":9,"s":"NF0","x":0.06,"y":0.2302},{"p":9,"s":"NF0","x":0.11,"y":0.1685},{"p":9,"s":"NF0","x":0.21,"y":0.1099},{"p":9,"s":"NF0","x":0.31,"y":0.0964},{"p":9,"s":"NF0","x":0.41,"y":0.1003},{"p":9,"s":"NF0","x":0.51,"y":0.1165},{"p":9,"s":"NF0","x":0.61,"y":0.1338},
{"p":9,"s":"BF14","x":-0.6,"y":0.1369},{"p":9,"s":"BF14","x":-0.5,"y":0.1107},{"p":9,"s":"BF14","x":-0.4,"y":0.1053},{"p":9,"s":"BF14","x":-0.3,"y":0.1014},{"p":9,"s":"BF14","x":-0.2,"y":0.0995},{"p":9,"s":"BF14","x":-0.1,"y":0.1169},{"p":9,"s":"BF14","x":-0.05,"y":0.1196},{"p":9,"s":"BF14","x":0.06,"y":0.0818},{"p":9,"s":"BF14","x":0.11,"y":0.0964},{"p":9,"s":"BF14","x":0.21,"y":0.0983},{"p":9,"s":"BF14","x":0.31,"y":0.0956},{"p":9,"s":"BF14","x":0.41,"y":0.1107},{"p":9,"s":"BF14","x":0.51,"y":0.1188},{"p":9,"s":"BF14","x":0.61,"y":0.1226},
{"p":9,"s":"L","x":-0.6,"y":0.1516},{"p":9,"s":"L","x":-0.5,"y":0.1342},{"p":9,"s":"L","x":-0.4,"y":0.1207},{"p":9,"s":"L","x":-0.3,"y":0.1149},{"p":9,"s":"L","x":-0.25,"y":0.1145},{"p":9,"s":"L","x":-0.2,"y":0.1196},{"p":9,"s":"L","x":-0.15,"y":0.135},{"p":9,"s":"L","x":-0.1,"y":0.1697},{"p":9,"s":"L","x":-0.08,"y":0.2005},{"p":9,"s":"L","x":-0.06,"y":0.2391},{"p":9,"s":"L","x":-0.046,"y":0.30},
{"p":9,"s":"R","x":0.065,"y":0.2642},{"p":9,"s":"R","x":0.08,"y":0.2237},{"p":9,"s":"R","x":0.1,"y":0.1832},{"p":9,"s":"R","x":0.12,"y":0.1562},{"p":9,"s":"R","x":0.15,"y":0.1369},{"p":9,"s":"R","x":0.2,"y":0.1196},{"p":9,"s":"R","x":0.25,"y":0.1138},{"p":9,"s":"R","x":0.3,"y":0.113},{"p":9,"s":"R","x":0.35,"y":0.1149},{"p":9,"s":"R","x":0.4,"y":0.1188},{"p":9,"s":"R","x":0.5,"y":0.133},{"p":9,"s":"R","x":0.61,"y":0.155},
{"p":9,"s":"D","x":-0.6,"y":0.133},{"p":9,"s":"D","x":-0.562,"y":0.1215},{"p":9,"s":"D","x":-0.525,"y":0.1161},{"p":9,"s":"D","x":-0.489,"y":0.1095},{"p":9,"s":"D","x":-0.454,"y":0.1045},{"p":9,"s":"D","x":-0.42,"y":0.099},{"p":9,"s":"D","x":-0.383,"y":0.0956},{"p":9,"s":"D","x":-0.34,"y":0.0933},{"p":9,"s":"D","x":-0.299,"y":0.0933},{"p":9,"s":"D","x":-0.255,"y":0.0926},{"p":9,"s":"D","x":-0.216,"y":0.0964},{"p":9,"s":"D","x":-0.181,"y":0.101},{"p":9,"s":"D","x":-0.145,"y":0.108},{"p":9,"s":"D","x":-0.107,"y":0.1061},{"p":9,"s":"D","x":-0.07,"y":0.0972},{"p":9,"s":"D","x":-0.05,"y":0.0857},{"p":9,"s":"D","x":-0.046,"y":0.075},{"p":9,"s":"D","x":-0.041,"y":0.0636},{"p":9,"s":"D","x":-0.036,"y":0.052},{"p":9,"s":"D","x":-0.028,"y":0.0417},{"p":9,"s":"D","x":-0.024,"y":0.0309},{"p":9,"s":"D","x":-0.017,"y":0.0193},{"p":9,"s":"D","x":-0.01,"y":0.0085},{"p":9,"s":"D","x":0,"y":0},{"p":9,"s":"D","x":0.014,"y":0.0116},{"p":9,"s":"D","x":0.021,"y":0.0224},{"p":9,"s":"D","x":0.03,"y":0.0328},{"p":9,"s":"D","x":0.037,"y":0.0444},{"p":9,"s":"D","x":0.044,"y":0.0559},{"p":9,"s":"D","x":0.051,"y":0.0675},{"p":9,"s":"D","x":0.065,"y":0.0772},{"p":9,"s":"D","x":0.078,"y":0.0887},{"p":9,"s":"D","x":0.092,"y":0.1003},{"p":9,"s":"D","x":0.125,"y":0.113},{"p":9,"s":"D","x":0.161,"y":0.1061},{"p":9,"s":"D","x":0.199,"y":0.0972},{"p":9,"s":"D","x":0.236,"y":0.0933},{"p":9,"s":"D","x":0.275,"y":0.0926},{"p":9,"s":"D","x":0.314,"y":0.0933},{"p":9,"s":"D","x":0.353,"y":0.0937},{"p":9,"s":"D","x":0.391,"y":0.0972},{"p":9,"s":"D","x":0.431,"y":0.1014},{"p":9,"s":"D","x":0.471,"y":0.1061},{"p":9,"s":"D","x":0.512,"y":0.1111},{"p":9,"s":"D","x":0.549,"y":0.1165},{"p":9,"s":"D","x":0.587,"y":0.1246},{"p":9,"s":"D","x":0.616,"y":0.1304}
]},
"concat": [
{"title":"Q 550-Vin 1,16-Fi 0,183","width":375,"height":259,"transform":[{"filter":"datum.p==1"}],
"encoding":{"x":{"field":"x","type":"quantitative","scale":{"domain":[-0.8,0.8],"nice":false,"zero":false},"axis":{"values":[-0.8,-0.6,-0.4,-0.2,0,0.2,0.4,0.6,0.8],"labelExpr":"datum.value==0?'0':(datum.value<0?'-':'')+replace(format(abs(datum.value),'.1f'),'.',',')","title":"Radius (m)"}},"y":{"field":"y","type":"quantitative","scale":{"domain":[0,0.3],"nice":false},"axis":{"values":[0,0.1,0.2,0.3],"labelExpr":"replace(format(datum.value,'.2f'),'.',',')","title":"Vᵢ (m/s)","offset":-187.5,"grid":true}}},
"layer":[
{"transform":[{"filter":"datum.s=='NF0' && datum.x==-0.6"}],"mark":{"type":"rect","fill":"transparent","stroke":"#8a8a8a","strokeWidth":2.5},"encoding":{"x":{"datum":-0.9336,"type":"quantitative"},"x2":{"datum":0.8713},"y":{"datum":0.3471,"type":"quantitative"},"y2":{"datum":-0.1203}}},
{"transform":[{"filter":"datum.s=='L' || datum.s=='R'"}],"mark":{"type":"line","color":"#ff0000","strokeWidth":3.5,"interpolate":"monotone"},"encoding":{"detail":{"field":"s"}}},
{"transform":[{"filter":"datum.s=='D'"}],"mark":{"type":"line","color":"#000000","strokeWidth":4.5,"strokeDash":[0.1,8.5],"strokeCap":"round"},"encoding":{}},
{"transform":[{"filter":"datum.s=='NF0' || datum.s=='BF14'"}],"mark":{"type":"point","filled":false,"color":"#000000","strokeWidth":2.5,"size":150,"opacity":1},"encoding":{"shape":{"field":"s","type":"nominal","scale":{"domain":["NF0","BF14"],"range":["square","circle"]},"legend":{"orient":"none","legendX":77,"legendY":331,"direction":"horizontal","title":null}}}}
]},
{"title":"Q 800-Vin 0,68-Fi 0,156","width":375,"height":259,"transform":[{"filter":"datum.p==2"}],
"encoding":{"x":{"field":"x","type":"quantitative","scale":{"domain":[-0.8,0.8],"nice":false,"zero":false},"axis":{"values":[-0.8,-0.6,-0.4,-0.2,0,0.2,0.4,0.6,0.8],"labelExpr":"datum.value==0?'0':(datum.value<0?'-':'')+replace(format(abs(datum.value),'.1f'),'.',',')","title":"Radius (m)"}},"y":{"field":"y","type":"quantitative","scale":{"domain":[0,0.3],"nice":false},"axis":{"values":[0,0.1,0.2,0.3],"labelExpr":"replace(format(datum.value,'.2f'),'.',',')","title":"Vᵢ (m/s)","offset":-187.5,"grid":true}}},
"layer":[
{"transform":[{"filter":"datum.s=='NF0' && datum.x==-0.6"}],"mark":{"type":"rect","fill":"transparent","stroke":"#8a8a8a","strokeWidth":2.5},"encoding":{"x":{"datum":-0.9336,"type":"quantitative"},"x2":{"datum":0.8713},"y":{"datum":0.3471,"type":"quantitative"},"y2":{"datum":-0.1203}}},
{"transform":[{"filter":"datum.s=='L' || datum.s=='R'"}],"mark":{"type":"line","color":"#ff0000","strokeWidth":3.5,"interpolate":"monotone"},"encoding":{"detail":{"field":"s"}}},
{"transform":[{"filter":"datum.s=='D'"}],"mark":{"type":"line","color":"#000000","strokeWidth":4.5,"strokeDash":[0.1,8.5],"strokeCap":"round"},"encoding":{}},
{"transform":[{"filter":"datum.s=='NF0' || datum.s=='BF14'"}],"mark":{"type":"point","filled":false,"color":"#000000","strokeWidth":2.5,"size":150,"opacity":1},"encoding":{"shape":{"field":"s","type":"nominal","scale":{"domain":["NF0","BF14"],"range":["square","circle"]},"legend":{"orient":"none","legendX":77,"legendY":331,"direction":"horizontal","title":null}}}}
]},
{"title":"Q 800-Vin 1,68-Fi 0,387","width":375,"height":259,"transform":[{"filter":"datum.p==3"}],
"encoding":{"x":{"field":"x","type":"quantitative","scale":{"domain":[-0.8,0.8],"nice":false,"zero":false},"axis":{"values":[-0.8,-0.6,-0.4,-0.2,0,0.2,0.4,0.6,0.8],"labelExpr":"datum.value==0?'0':(datum.value<0?'-':'')+replace(format(abs(datum.value),'.1f'),'.',',')","title":"Radius (m)"}},"y":{"field":"y","type":"quantitative","scale":{"domain":[0,0.3],"nice":false},"axis":{"values":[0,0.1,0.2,0.3],"labelExpr":"replace(format(datum.value,'.2f'),'.',',')","title":"Vᵢ (m/s)","offset":-187.5,"grid":true}}},
"layer":[
{"transform":[{"filter":"datum.s=='NF0' && datum.x==-0.6"}],"mark":{"type":"rect","fill":"transparent","stroke":"#8a8a8a","strokeWidth":2.5},"encoding":{"x":{"datum":-0.9336,"type":"quantitative"},"x2":{"datum":0.922},"y":{"datum":0.3471,"type":"quantitative"},"y2":{"datum":-0.1203}}},
{"transform":[{"filter":"datum.s=='L' || datum.s=='R'"}],"mark":{"type":"line","color":"#ff0000","strokeWidth":3.5,"interpolate":"monotone"},"encoding":{"detail":{"field":"s"}}},
{"transform":[{"filter":"datum.s=='D'"}],"mark":{"type":"line","color":"#000000","strokeWidth":4.5,"strokeDash":[0.1,8.5],"strokeCap":"round"},"encoding":{}},
{"transform":[{"filter":"datum.s=='NF0' || datum.s=='BF14'"}],"mark":{"type":"point","filled":false,"color":"#000000","strokeWidth":2.5,"size":150,"opacity":1},"encoding":{"shape":{"field":"s","type":"nominal","scale":{"domain":["NF0","BF14"],"range":["square","circle"]},"legend":{"orient":"none","legendX":77,"legendY":331,"direction":"horizontal","title":null}}}}
]},
{"title":"Q 1000-Vin 0,35-Fi 0,1","width":375,"height":259,"transform":[{"filter":"datum.p==4"}],
"encoding":{"x":{"field":"x","type":"quantitative","scale":{"domain":[-0.8,0.8],"nice":false,"zero":false},"axis":{"values":[-0.8,-0.6,-0.4,-0.2,0,0.2,0.4,0.6,0.8],"labelExpr":"datum.value==0?'0':(datum.value<0?'-':'')+replace(format(abs(datum.value),'.1f'),'.',',')","title":"Radius (m)"}},"y":{"field":"y","type":"quantitative","scale":{"domain":[0,0.3],"nice":false},"axis":{"values":[0,0.1,0.2,0.3],"labelExpr":"replace(format(datum.value,'.2f'),'.',',')","title":"Vᵢ (m/s)","offset":-187.5,"grid":true}}},
"layer":[
{"transform":[{"filter":"datum.s=='NF0' && datum.x==-0.6"}],"mark":{"type":"rect","fill":"transparent","stroke":"#8a8a8a","strokeWidth":2.5},"encoding":{"x":{"datum":-0.9336,"type":"quantitative"},"x2":{"datum":0.8713},"y":{"datum":0.3471,"type":"quantitative"},"y2":{"datum":-0.1203}}},
{"transform":[{"filter":"datum.s=='L' || datum.s=='R'"}],"mark":{"type":"line","color":"#ff0000","strokeWidth":3.5,"interpolate":"monotone"},"encoding":{"detail":{"field":"s"}}},
{"transform":[{"filter":"datum.s=='D'"}],"mark":{"type":"line","color":"#000000","strokeWidth":4.5,"strokeDash":[0.1,8.5],"strokeCap":"round"},"encoding":{}},
{"transform":[{"filter":"datum.s=='NF0' || datum.s=='BF14'"}],"mark":{"type":"point","filled":false,"color":"#000000","strokeWidth":2.5,"size":150,"opacity":1},"encoding":{"shape":{"field":"s","type":"nominal","scale":{"domain":["NF0","BF14"],"range":["square","circle"]},"legend":{"orient":"none","legendX":77,"legendY":331,"direction":"horizontal","title":null}}}}
]},
{"title":"Q 1000-Vin 0,85-Fi 0,243","width":375,"height":259,"transform":[{"filter":"datum.p==5"}],
"encoding":{"x":{"field":"x","type":"quantitative","scale":{"domain":[-0.8,0.8],"nice":false,"zero":false},"axis":{"values":[-0.8,-0.6,-0.4,-0.2,0,0.2,0.4,0.6,0.8],"labelExpr":"datum.value==0?'0':(datum.value<0?'-':'')+replace(format(abs(datum.value),'.1f'),'.',',')","title":"Radius (m)"}},"y":{"field":"y","type":"quantitative","scale":{"domain":[0,0.3],"nice":false},"axis":{"values":[0,0.1,0.2,0.3],"labelExpr":"replace(format(datum.value,'.2f'),'.',',')","title":"Vᵢ (m/s)","offset":-187.5,"grid":true}}},
"layer":[
{"transform":[{"filter":"datum.s=='NF0' && datum.x==-0.6"}],"mark":{"type":"rect","fill":"transparent","stroke":"#8a8a8a","strokeWidth":2.5},"encoding":{"x":{"datum":-0.9336,"type":"quantitative"},"x2":{"datum":0.8713},"y":{"datum":0.3471,"type":"quantitative"},"y2":{"datum":-0.1203}}},
{"transform":[{"filter":"datum.s=='L' || datum.s=='R'"}],"mark":{"type":"line","color":"#ff0000","strokeWidth":3.5,"interpolate":"monotone"},"encoding":{"detail":{"field":"s"}}},
{"transform":[{"filter":"datum.s=='D'"}],"mark":{"type":"line","color":"#000000","strokeWidth":4.5,"strokeDash":[0.1,8.5],"strokeCap":"round"},"encoding":{}},
{"transform":[{"filter":"datum.s=='NF0' || datum.s=='BF14'"}],"mark":{"type":"point","filled":false,"color":"#000000","strokeWidth":2.5,"size":150,"opacity":1},"encoding":{"shape":{"field":"s","type":"nominal","scale":{"domain":["NF0","BF14"],"range":["square","circle"]},"legend":{"orient":"none","legendX":77,"legendY":331,"direction":"horizontal","title":null}}}}
]},
{"title":"Q 1500-Vin 0,52-Fi 0,225","width":375,"height":259,"transform":[{"filter":"datum.p==6"}],
"encoding":{"x":{"field":"x","type":"quantitative","scale":{"domain":[-0.8,0.8],"nice":false,"zero":false},"axis":{"values":[-0.8,-0.6,-0.4,-0.2,0,0.2,0.4,0.6,0.8],"labelExpr":"datum.value==0?'0':(datum.value<0?'-':'')+replace(format(abs(datum.value),'.1f'),'.',',')","title":"Radius (m)"}},"y":{"field":"y","type":"quantitative","scale":{"domain":[0,0.3],"nice":false},"axis":{"values":[0,0.1,0.2,0.3],"labelExpr":"replace(format(datum.value,'.2f'),'.',',')","title":"Vᵢ (m/s)","offset":-187.5,"grid":true}}},
"layer":[
{"transform":[{"filter":"datum.s=='NF0' && datum.x==-0.6"}],"mark":{"type":"rect","fill":"transparent","stroke":"#8a8a8a","strokeWidth":2.5},"encoding":{"x":{"datum":-0.9336,"type":"quantitative"},"x2":{"datum":0.922},"y":{"datum":0.3471,"type":"quantitative"},"y2":{"datum":-0.1203}}},
{"transform":[{"filter":"datum.s=='L' || datum.s=='R'"}],"mark":{"type":"line","color":"#ff0000","strokeWidth":3.5,"interpolate":"monotone"},"encoding":{"detail":{"field":"s"}}},
{"transform":[{"filter":"datum.s=='D'"}],"mark":{"type":"line","color":"#000000","strokeWidth":4.5,"strokeDash":[0.1,8.5],"strokeCap":"round"},"encoding":{}},
{"transform":[{"filter":"datum.s=='NF0' || datum.s=='BF14'"}],"mark":{"type":"point","filled":false,"color":"#000000","strokeWidth":2.5,"size":150,"opacity":1},"encoding":{"shape":{"field":"s","type":"nominal","scale":{"domain":["NF0","BF14"],"range":["square","circle"]},"legend":{"orient":"none","legendX":77,"legendY":331,"direction":"horizontal","title":null}}}}
]},
{"title":"Q 1500-Vin 1,27-Fi 0,546","width":375,"height":259,"transform":[{"filter":"datum.p==7"}],
"encoding":{"x":{"field":"x","type":"quantitative","scale":{"domain":[-0.8,0.8],"nice":false,"zero":false},"axis":{"values":[-0.8,-0.6,-0.4,-0.2,0,0.2,0.4,0.6,0.8],"labelExpr":"datum.value==0?'0':(datum.value<0?'-':'')+replace(format(abs(datum.value),'.1f'),'.',',')","title":"Radius (m)"}},"y":{"field":"y","type":"quantitative","scale":{"domain":[0,0.3],"nice":false},"axis":{"values":[0,0.1,0.2,0.3],"labelExpr":"replace(format(datum.value,'.2f'),'.',',')","title":"Vᵢ (m/s)","offset":-187.5,"grid":true}}},
"layer":[
{"transform":[{"filter":"datum.s=='NF0' && datum.x==-0.6"}],"mark":{"type":"rect","fill":"transparent","stroke":"#8a8a8a","strokeWidth":2.5},"encoding":{"x":{"datum":-0.9336,"type":"quantitative"},"x2":{"datum":0.8713},"y":{"datum":0.3471,"type":"quantitative"},"y2":{"datum":-0.1203}}},
{"transform":[{"filter":"datum.s=='L' || datum.s=='R'"}],"mark":{"type":"line","color":"#ff0000","strokeWidth":3.5,"interpolate":"monotone"},"encoding":{"detail":{"field":"s"}}},
{"transform":[{"filter":"datum.s=='D'"}],"mark":{"type":"line","color":"#000000","strokeWidth":4.5,"strokeDash":[0.1,8.5],"strokeCap":"round"},"encoding":{}},
{"transform":[{"filter":"datum.s=='NF0' || datum.s=='BF14'"}],"mark":{"type":"point","filled":false,"color":"#000000","strokeWidth":2.5,"size":150,"opacity":1},"encoding":{"shape":{"field":"s","type":"nominal","scale":{"domain":["NF0","BF14"],"range":["square","circle"]},"legend":{"orient":"none","legendX":77,"legendY":331,"direction":"horizontal","title":null}}}}
]},
{"title":"Q 1900-Vin 0,66-Fi 0,36","width":375,"height":259,"transform":[{"filter":"datum.p==8"}],
"encoding":{"x":{"field":"x","type":"quantitative","scale":{"domain":[-0.8,0.8],"nice":false,"zero":false},"axis":{"values":[-0.8,-0.6,-0.4,-0.2,0,0.2,0.4,0.6,0.8],"labelExpr":"datum.value==0?'0':(datum.value<0?'-':'')+replace(format(abs(datum.value),'.1f'),'.',',')","title":"Radius (m)"}},"y":{"field":"y","type":"quantitative","scale":{"domain":[0,0.3],"nice":false},"axis":{"values":[0,0.1,0.2,0.3],"labelExpr":"replace(format(datum.value,'.2f'),'.',',')","title":"Vᵢ (m/s)","offset":-187.5,"grid":true}}},
"layer":[
{"transform":[{"filter":"datum.s=='NF0' && datum.x==-0.6"}],"mark":{"type":"rect","fill":"transparent","stroke":"#8a8a8a","strokeWidth":2.5},"encoding":{"x":{"datum":-0.9336,"type":"quantitative"},"x2":{"datum":0.8713},"y":{"datum":0.3471,"type":"quantitative"},"y2":{"datum":-0.1203}}},
{"transform":[{"filter":"datum.s=='L' || datum.s=='R'"}],"mark":{"type":"line","color":"#ff0000","strokeWidth":3.5,"interpolate":"monotone"},"encoding":{"detail":{"field":"s"}}},
{"transform":[{"filter":"datum.s=='D'"}],"mark":{"type":"line","color":"#000000","strokeWidth":4.5,"strokeDash":[0.1,8.5],"strokeCap":"round"},"encoding":{}},
{"transform":[{"filter":"datum.s=='NF0' || datum.s=='BF14'"}],"mark":{"type":"point","filled":false,"color":"#000000","strokeWidth":2.5,"size":150,"opacity":1},"encoding":{"shape":{"field":"s","type":"nominal","scale":{"domain":["NF0","BF14"],"range":["square","circle"]},"legend":{"orient":"none","legendX":77,"legendY":331,"direction":"horizontal","title":null}}}}
]},
{"title":"Q 1900-Vin 1,6-Fi 0,876","width":375,"height":259,"transform":[{"filter":"datum.p==9"}],
"encoding":{"x":{"field":"x","type":"quantitative","scale":{"domain":[-0.8,0.8],"nice":false,"zero":false},"axis":{"values":[-0.8,-0.6,-0.4,-0.2,0,0.2,0.4,0.6,0.8],"labelExpr":"datum.value==0?'0':(datum.value<0?'-':'')+replace(format(abs(datum.value),'.1f'),'.',',')","title":"Radius (m)"}},"y":{"field":"y","type":"quantitative","scale":{"domain":[0,0.3],"nice":false},"axis":{"values":[0,0.1,0.2,0.3],"labelExpr":"replace(format(datum.value,'.2f'),'.',',')","title":"Vᵢ (m/s)","offset":-187.5,"grid":true}}},
"layer":[
{"transform":[{"filter":"datum.s=='NF0' && datum.x==-0.6"}],"mark":{"type":"rect","fill":"transparent","stroke":"#8a8a8a","strokeWidth":2.5},"encoding":{"x":{"datum":-0.9336,"type":"quantitative"},"x2":{"datum":0.922},"y":{"datum":0.3471,"type":"quantitative"},"y2":{"datum":-0.1203}}},
{"transform":[{"filter":"datum.s=='L' || datum.s=='R'"}],"mark":{"type":"line","color":"#ff0000","strokeWidth":3.5,"interpolate":"monotone"},"encoding":{"detail":{"field":"s"}}},
{"transform":[{"filter":"datum.s=='D'"}],"mark":{"type":"line","color":"#000000","strokeWidth":4.5,"strokeDash":[0.1,8.5],"strokeCap":"round"},"encoding":{}},
{"transform":[{"filter":"datum.s=='NF0' || datum.s=='BF14'"}],"mark":{"type":"point","filled":false,"color":"#000000","strokeWidth":2.5,"size":150,"opacity":1},"encoding":{"shape":{"field":"s","type":"nominal","scale":{"domain":["NF0","BF14"],"range":["square","circle"]},"legend":{"orient":"none","legendX":77,"legendY":331,"direction":"horizontal","title":null}}}}
]}
],
"config": {
"view": {"stroke": null},
"font": "Lato",
"title": {"font": "Lato", "fontSize": 21, "fontWeight": "bold", "color": "#000000", "anchor": "middle", "offset": 1},
"axis": {"labelFont": "Lato", "titleFont": "Lato", "labelFontSize": 16, "titleFontSize": 18, "labelColor": "#1a1a1a", "titleColor": "#000000", "titleFontWeight": "bold", "domainColor": "#8a8a8a", "domainWidth": 2.5, "gridColor": "#8a8a8a", "gridWidth": 2.5, "tickColor": "#8a8a8a", "tickWidth": 2.5, "labelOverlap": false, "labelFlush": false},
"axisX": {"grid": false, "tickSize": 6, "labelPadding": 8, "titlePadding": 13},
"axisY": {"ticks": false, "labelPadding": 17, "titleAngle": 0, "titleX": 7, "titleY": -19, "titleAlign": "center", "titleBaseline": "alphabetic"},
"legend": {"labelFont": "Lato", "labelFontSize": 16, "labelColor": "#000000", "symbolStrokeWidth": 2.5, "symbolSize": 150, "symbolStrokeColor": "#000000", "padding": 0, "labelOffset": 3, "columnPadding": 104}
}
}
